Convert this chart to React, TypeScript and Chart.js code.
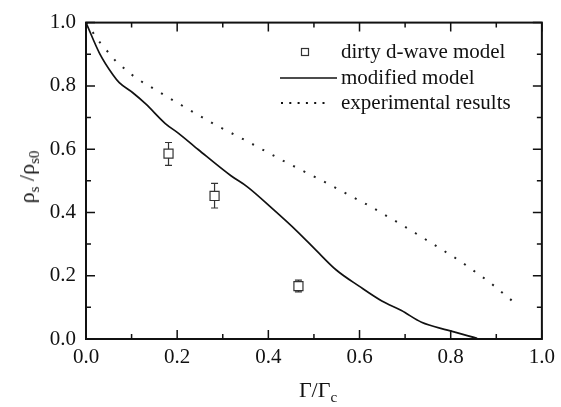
import React, { useEffect, useRef } from "react";
import { Chart, registerables } from "chart.js";

Chart.register(...registerables);

// dirty d-wave model (square markers with error bars)
const dirtyX = [0.181, 0.282, 0.466];
const dirtyY = [0.586, 0.452, 0.167];
const dirtyLow = [0.549, 0.414, 0.149];
const dirtyHigh = [0.621, 0.492, 0.186];

// modified model (solid line)
const modX = [0, 0.03, 0.059, 0.073, 0.102, 0.131, 0.174, 0.203, 0.246, 0.318, 0.354, 0.412, 0.462, 0.505, 0.549, 0.599, 0.649, 0.692, 0.736, 0.793, 0.858];
const modY = [1.0, 0.902, 0.835, 0.81, 0.779, 0.743, 0.681, 0.65, 0.599, 0.516, 0.481, 0.408, 0.342, 0.28, 0.218, 0.167, 0.12, 0.09, 0.053, 0.028, 0.002];

// experimental results (dotted line)
const expX = [0, 0.03, 0.066, 0.109, 0.153, 0.196, 0.239, 0.282, 0.347, 0.433, 0.52, 0.624, 0.69, 0.755, 0.82, 0.885, 0.948];
const expY = [1.0, 0.938, 0.877, 0.825, 0.787, 0.75, 0.714, 0.678, 0.63, 0.563, 0.499, 0.419, 0.363, 0.306, 0.247, 0.18, 0.105];

const axisMin = 0;
const axisMax = 1;
const majorStep = 0.2;
const minorStep = 0.1;

const legendLabels = ["dirty d-wave model", "modified model", "experimental results"];

const SERIF = "'Liberation Serif'";
const INK = "#111";

const zip = (xs: number[], ys: number[]) => xs.map((x, i) => ({ x, y: ys[i] }));

const decorPlugin = {
  id: "decor",
  beforeDatasetsDraw(chart: any) {
    const ctx = chart.ctx;
    const xs = chart.scales.x;
    const ys = chart.scales.y;
    ctx.save();
    ctx.strokeStyle = "#333";
    ctx.lineWidth = 1.2;
    for (let i = 0; i < dirtyX.length; i++) {
      const px = xs.getPixelForValue(dirtyX[i]);
      const pl = ys.getPixelForValue(dirtyLow[i]);
      const ph = ys.getPixelForValue(dirtyHigh[i]);
      ctx.beginPath();
      ctx.moveTo(px, pl);
      ctx.lineTo(px, ph);
      ctx.moveTo(px - 3.5, pl);
      ctx.lineTo(px + 3.5, pl);
      ctx.moveTo(px - 3.5, ph);
      ctx.lineTo(px + 3.5, ph);
      ctx.stroke();
    }
    ctx.restore();
  },
  afterDraw(chart: any) {
    const ctx = chart.ctx;
    const ca = chart.chartArea;
    const xs = chart.scales.x;
    const ys = chart.scales.y;
    ctx.save();
    // frame
    ctx.strokeStyle = INK;
    ctx.lineWidth = 2;
    ctx.strokeRect(ca.left, ca.top, ca.right - ca.left, ca.bottom - ca.top);
    // inward ticks on all four sides
    ctx.lineWidth = 1.5;
    const n = Math.round((axisMax - axisMin) / minorStep);
    for (let i = 0; i <= n; i++) {
      const v = axisMin + i * minorStep;
      const major = Math.abs(v / majorStep - Math.round(v / majorStep)) < 1e-6;
      const len = major ? 9 : 5;
      const x = xs.getPixelForValue(v);
      const y = ys.getPixelForValue(v);
      ctx.beginPath();
      ctx.moveTo(x, ca.bottom);
      ctx.lineTo(x, ca.bottom - len);
      ctx.moveTo(x, ca.top);
      ctx.lineTo(x, ca.top + len);
      ctx.moveTo(ca.left, y);
      ctx.lineTo(ca.left + len, y);
      ctx.moveTo(ca.right, y);
      ctx.lineTo(ca.right - len, y);
      ctx.stroke();
    }

    // legend
    ctx.font = `21px ${SERIF}`;
    ctx.textBaseline = "middle";
    ctx.textAlign = "left";
    const textX = 341;
    const rows = [52, 78, 103];
    ctx.strokeStyle = "#333";
    ctx.lineWidth = 1.2;
    ctx.fillStyle = "#fff";
    ctx.fillRect(301.5, rows[0] - 3.5, 7, 7);
    ctx.strokeRect(301.5, rows[0] - 3.5, 7, 7);
    ctx.strokeStyle = INK;
    ctx.lineWidth = 1.6;
    ctx.beginPath();
    ctx.moveTo(280, rows[1]);
    ctx.lineTo(337, rows[1]);
    ctx.stroke();
    ctx.fillStyle = INK;
    for (let k = 0; k < 6; k++) {
      ctx.fillRect(281 + k * 8.3, rows[2] - 1, 2, 2);
    }
    legendLabels.forEach((l, i) => ctx.fillText(l, textX, rows[i]));
    ctx.restore();
  },
};

const titleStyle: React.CSSProperties = {
  position: "absolute",
  fontFamily: SERIF,
  fontSize: 22,
  lineHeight: "22px",
  color: INK,
  whiteSpace: "nowrap",
};
const subStyle: React.CSSProperties = {
  fontSize: 15,
  position: "relative",
  top: 5,
};

export default function App() {
  const ref = useRef<HTMLCanvasElement | null>(null);
  useEffect(() => {
    document.body.style.margin = "0";
    let chart: Chart | null = null;
    let cancelled = false;
    const make = () => {
      if (cancelled) return;
      const canvas = ref.current!;
      const tickFont = { family: SERIF, size: 21 };
      chart = new Chart(canvas, {
        type: "scatter",
        data: {
          datasets: [
            {
              label: legendLabels[0],
              data: zip(dirtyX, dirtyY),
              pointStyle: "rect",
              pointRadius: 6.4,
              pointBorderWidth: 1.2,
              pointBorderColor: "#333",
              pointBackgroundColor: "#fff",
              showLine: false,
            },
            {
              label: legendLabels[1],
              data: zip(modX, modY),
              showLine: true,
              pointRadius: 0,
              borderColor: INK,
              borderWidth: 1.7,
              cubicInterpolationMode: "monotone",
            },
            {
              label: legendLabels[2],
              data: zip(expX, expY),
              showLine: true,
              pointRadius: 0,
              borderColor: "#222",
              borderWidth: 2,
              borderDash: [2, 9.6],
              borderCapStyle: "butt",
            },
          ],
        } as any,
        options: {
          responsive: false,
          animation: false,
          events: [],
          font: { family: SERIF },
          layout: { padding: { top: 15, right: 12, left: 0, bottom: 0 } },
          plugins: { legend: { display: false }, tooltip: { enabled: false } },
          scales: {
            x: {
              type: "linear",
              min: axisMin,
              max: axisMax,
              grid: { display: false, drawTicks: false },
              border: { display: false },
              ticks: {
                stepSize: majorStep,
                font: tickFont,
                color: INK,
                padding: 6,
                maxRotation: 0,
                callback: (v: any) => Number(v).toFixed(1),
              },
              afterFit: (s: any) => {
                s.height = 68;
              },
            },
            y: {
              type: "linear",
              min: axisMin,
              max: axisMax,
              grid: { display: false, drawTicks: false },
              border: { display: false },
              ticks: {
                stepSize: majorStep,
                font: tickFont,
                color: INK,
                padding: 10,
                callback: (v: any) => Number(v).toFixed(1),
              },
              afterFit: (s: any) => {
                s.width = 86;
              },
            },
          },
        } as any,
        plugins: [decorPlugin],
      });
    };
    const t = window.setTimeout(make, 30);
    return () => {
      cancelled = true;
      window.clearTimeout(t);
      if (chart) chart.destroy();
    };
  }, []);
  return (
    <div style={{ position: "relative", width: 561, height: 407 }}>
      <canvas ref={ref} width={561} height={407} style={{ display: "block", position: "absolute", left: 0, top: 0 }} />
      <div style={{ ...titleStyle, left: 318, top: 379, transform: "translateX(-50%)" }}>
        Γ/Γ<span style={subStyle}>c</span>
      </div>
      <div
        style={{
          ...titleStyle,
          left: 28,
          top: 177,
          transform: "translate(-50%, -50%) rotate(-90deg)",
        }}
      >
        ρ<span style={subStyle}>s</span> /ρ<span style={subStyle}>s0</span>
      </div>
    </div>
  );
}
